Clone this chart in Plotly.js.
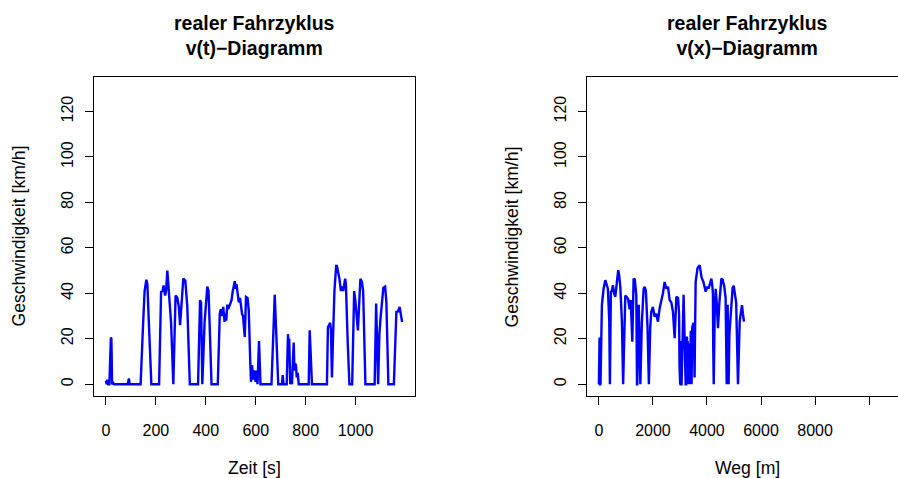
<!DOCTYPE html>
<html>
<head>
<meta charset="utf-8">
<script src="https://cdn.plot.ly/plotly-3.0.1.min.js"></script>
<style>
  html, body { margin: 0; padding: 0; background: #fff; overflow: hidden; }
  #wrap { width: 898px; height: 478px; overflow: hidden; }
  #chart { width: 920px; height: 478px; }
</style>
</head>
<body>
<div id="wrap"><div id="chart"></div></div>
<script>
// ---- data ----
const zeit = [0,3,6,9,14,17,20,22,25,30,33,88,92,95,139,149,155,162,166,175,182,213,221,227,231,237,241,246,253,261,270,279,286,292,297,310,318,326,336,369,377,381,386,395,406,411,423,448,456,460,463,470,475,479,482,486,490,503,508,516,520,523,532,537,545,549,556,561,567,572,578,581,585,590,593,596,599,603,607,610,613,619,663,676,690,705,708,711,724,729,732,734,738,742,745,748,752,755,758,761,764,768,772,812,816,825,885,889,893,898,901,905,909,915,922,925,935,941,946,950,958,961,968,975,986,994,999,1009,1019,1025,1030,1039,1076,1082,1090,1095,1100,1111,1118,1123,1131,1153,1163,1170,1176,1180,1186];
const v_t = [1.5,0,2,0,0,14,20.5,20,0,0.5,0,0,2.5,0,0,26.6,41,46,44,19,0,0,40.6,41,43.5,39,41,50,41,27,0,39,38,34,26,46.5,45.5,34,0,0,37,36,0,27,43,41,0,0,31,33,30,34,27.4,31,28,35,33,37,41,45.3,42,44,36,38,31,30,20.8,38.4,38,32.5,9.8,1,8.4,2,6,5,1,6,0,19,19,0,0,39.4,0,0,4,0,0,22,18,20,0,2,0,8,18.3,6,9,8.4,3,5,0,0,23.7,0,0,25,26,27,24,3,19,41,52,52,46.4,41,43,41,46.4,44,19,0,0,41,36.6,23.7,46.4,45,41,0,0,35.5,0,22,29.6,42.5,43,36,0,0,31.8,32,34,31,27.4];

const weg = [0,2,5,10,25,40,50,52,54,60,111,174,237,280,333,385,407,444,480,519,560,607,667,715,750,793,852,897,978,1030,1080,1137,1180,1237,1285,1330,1385,1410,1420,1475,1535,1590,1656,1693,1740,1800,1850,1900,1940,2000,2063,2126,2185,2248,2311,2370,2433,2496,2559,2619,2680,2741,2804,2867,2930,2967,2985,2990,2995,3000,3005,3008,3015,3025,3060,3135,3211,3230,3259,3270,3285,3296,3305,3312,3320,3333,3340,3350,3359,3365,3372,3380,3400,3420,3430,3455,3480,3500,3520,3541,3555,3581,3650,3730,3800,3870,3952,4010,4060,4110,4163,4200,4220,4230,4237,4250,4285,4322,4360,4407,4460,4533,4580,4640,4690,4730,4765,4800,4830,4870,4950,4989,5030,5080,5148,5211,5250,5296,5330,5370];
const v_x = [0,2,0,0,20.5,0,0,2.5,0,0,34.8,42,45.8,44,42,27.5,0,40.7,41,43.6,40,38.5,47.2,50.2,48,42.8,27.5,0,39,38,37.6,33,37,18.7,46.5,46,39,0,0,35,0,27,42,42.8,41,25,0,25,31.9,34,29.7,31,27.5,33.4,36.3,40,45,42,42.8,37,36,31.9,20.2,38.5,38,31,8,1,8,2,5,0,19,0,0,39.4,0,0,21,17,19,0,3,0,8,18,6,9,8,3,5,0,23.5,0,0,25,26.8,27,24,3,19,45,51,52.4,47,45,40.7,43,42,45,46.5,43,40,19,0,0,30,42,36,24.6,36,46.5,46,43,38,0,35,0,22,30,42.5,43.3,40,36,0,27.5,31,34.8,31,27.5];

const xTicks1 = [0,200,400,600,800,1000];
const xTicks2 = [0,2000,4000,6000,8000,10000];
const xTickText2 = ['0','2000','4000','6000','8000',''];
const yTicks = [0,20,40,60,80,100,120];

const titel1 = 'realer Fahrzyklus<br>v(t)\u2212Diagramm';
const titel2 = 'realer Fahrzyklus<br>v(x)\u2212Diagramm';
const xTitel1 = 'Zeit [s]';
const xTitel2 = 'Weg [m]';
const yTitel = 'Geschwindigkeit [km/h]';

// ---- layout ----
const W = 920, H = 478;
const FONT = 'Liberation Sans, Arial, Helvetica, sans-serif';
const px = x => x / W;
const py = y => 1 - y / H;

const lineStyle = {color: '#0000ff', width: 2.4};

const traces = [
  {x: zeit, y: v_t, type: 'scatter', mode: 'lines', line: lineStyle, xaxis: 'x', yaxis: 'y', hoverinfo: 'skip'},
  {x: weg, y: v_x, type: 'scatter', mode: 'lines', line: lineStyle, xaxis: 'x2', yaxis: 'y2', hoverinfo: 'skip'}
];

const axBase = {
  ticks: 'outside', ticklen: 8, tickwidth: 1, tickcolor: '#000',
  showline: true, mirror: true, linecolor: '#000', linewidth: 1,
  showgrid: false, zeroline: false, fixedrange: true,
  tickfont: {family: FONT, size: 16, color: '#000'}
};

const yDomain = [82 / H, 401 / H];
const labFont = {family: FONT, size: 17.6, color: '#000'};

const layout = {
  width: W, height: H,
  margin: {l: 0, r: 0, t: 0, b: 0, pad: 0},
  paper_bgcolor: '#fff', plot_bgcolor: '#fff',
  showlegend: false,
  font: {family: FONT, size: 16, color: '#000'},
  xaxis: Object.assign({}, axBase, {domain: [px(94), px(415)], range: [-47.6, 1237.6], tickmode: 'array', tickvals: xTicks1, anchor: 'y', ticklabelstandoff: 12}),
  yaxis: Object.assign({}, axBase, {domain: yDomain, range: [-5.2, 135.2], tickmode: 'array', tickvals: yTicks, tickangle: -90, anchor: 'x', ticklabelstandoff: 6}),
  xaxis2: Object.assign({}, axBase, {domain: [px(587), px(908)], range: [-440, 11440], tickmode: 'array', tickvals: xTicks2, ticktext: xTickText2, anchor: 'y2', ticklabelstandoff: 12}),
  yaxis2: Object.assign({}, axBase, {domain: yDomain, range: [-5.2, 135.2], tickmode: 'array', tickvals: yTicks, tickangle: -90, anchor: 'x2', ticklabelstandoff: 6}),
  annotations: [
    {text: '<b>' + titel1 + '</b>', x: px(254.5), y: py(35), xref: 'paper', yref: 'paper', xanchor: 'center', yanchor: 'middle', showarrow: false, font: {family: FONT, size: 19.5, color: '#000'}},
    {text: '<b>' + titel2 + '</b>', x: px(747.5), y: py(35), xref: 'paper', yref: 'paper', xanchor: 'center', yanchor: 'middle', showarrow: false, font: {family: FONT, size: 19.5, color: '#000'}},
    {text: xTitel1, x: px(254.5), y: py(468), xref: 'paper', yref: 'paper', xanchor: 'center', yanchor: 'middle', showarrow: false, font: labFont},
    {text: xTitel2, x: px(747.5), y: py(468), xref: 'paper', yref: 'paper', xanchor: 'center', yanchor: 'middle', showarrow: false, font: labFont},
    {text: yTitel, x: px(18), y: py(236.5), xref: 'paper', yref: 'paper', xanchor: 'center', yanchor: 'middle', textangle: -90, showarrow: false, font: labFont},
    {text: yTitel, x: px(511), y: py(236.5), xref: 'paper', yref: 'paper', xanchor: 'center', yanchor: 'middle', textangle: -90, showarrow: false, font: labFont}
  ]
};

Plotly.newPlot('chart', traces, layout, {staticPlot: true, displayModeBar: false});
</script>
</body>
</html>
